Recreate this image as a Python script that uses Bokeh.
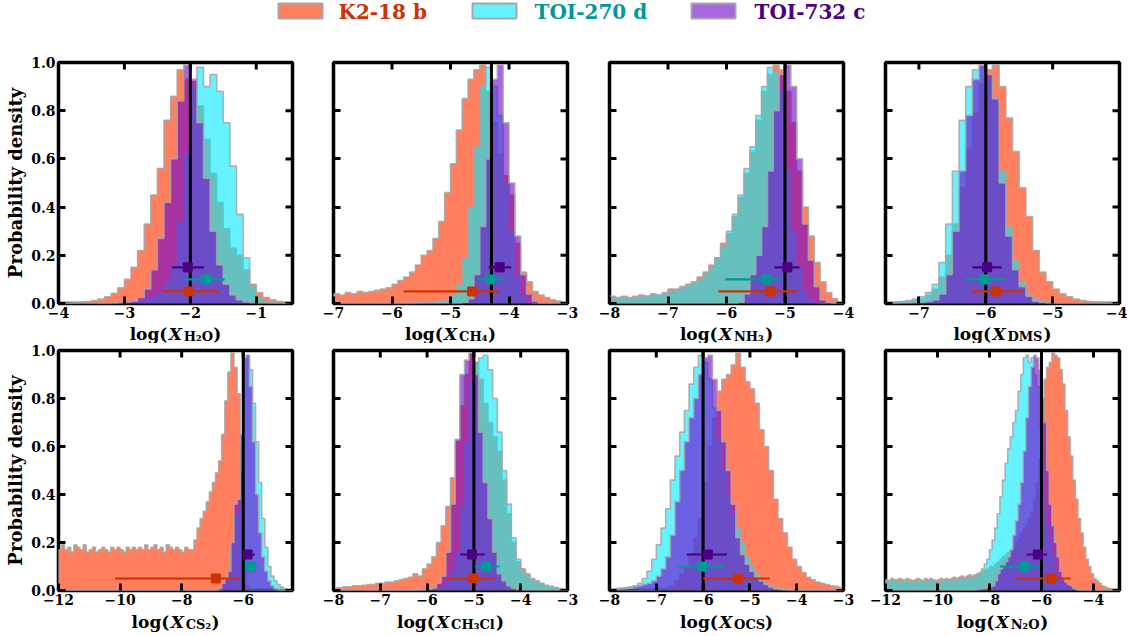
from bokeh.plotting import figure
from bokeh.layouts import column, row
from bokeh.models import Range1d, FixedTicker, CustomJSTickFormatter
from bokeh.core.properties import value
from bokeh.embed import file_html
from bokeh.resources import INLINE

# ---------------- data ----------------
planets = ["K2-18 b", "TOI-270 d", "TOI-732 c"]
fill_colors = ["#FF7F5E", "#00EBFF", "#6E00CD"]
fill_alphas = [1.0, 0.6, 0.6]
text_colors = ["#CC3300", "#009999", "#4B0082"]
err_y = [0.05, 0.10, 0.15]
bin_width = 0.1

species_sub = ["H₂O", "CH₄", "NH₃", "DMS", "CS₂", "CH₃Cl", "OCS", "N₂O"]
x_ranges = [(-4.0, -0.45), (-7.0, -3.0), (-8.0, -4.0), (-7.5, -4.0),
            (-12.0, -4.4), (-8.0, -3.0), (-8.0, -3.0), (-12.0, -3.0)]
x_ticks = [[-4, -3, -2, -1], [-7, -6, -5, -4, -3], [-8, -7, -6, -5, -4], [-7, -6, -5, -4],
           [-12, -10, -8, -6], [-8, -7, -6, -5, -4, -3], [-8, -7, -6, -5, -4, -3], [-12, -10, -8, -6, -4]]
y_ticks = [0.0, 0.2, 0.4, 0.6, 0.8, 1.0]
hist_start = [-4.0, -7.0, -8.0, -7.5, -12.0, -8.0, -8.0, -12.0]
truth = [-2.0, -4.3, -5.0, -6.0, -6.0, -5.0, -6.0, -6.0]

# histograms (heights per 0.1-dex bin, normalised to peak)
h2o_k2 = [0.0, 0.002, 0.003, 0.005, 0.008, 0.012, 0.018, 0.028, 0.042, 0.065,
          0.10, 0.15, 0.22, 0.33, 0.45, 0.56, 0.76, 0.86, 0.97, 0.93,
          0.92, 0.82, 0.68, 0.54, 0.42, 0.31, 0.23, 0.20, 0.14, 0.08,
          0.045, 0.025, 0.015, 0.008, 0.005]
h2o_t270 = [0, 0, 0, 0, 0, 0, 0, 0, 0.002, 0.003,
            0.005, 0.008, 0.012, 0.02, 0.03, 0.05, 0.09, 0.16, 0.34, 0.62,
            0.90, 0.98, 0.90, 0.95, 0.88, 0.75, 0.57, 0.37, 0.19, 0.07,
            0.025, 0.008, 0.003, 0, 0]
h2o_t732 = [0, 0, 0, 0, 0, 0, 0, 0, 0.002, 0.004,
            0.006, 0.01, 0.025, 0.06, 0.14, 0.27, 0.42, 0.60, 0.84, 0.99,
            0.93, 0.75, 0.52, 0.30, 0.16, 0.08, 0.035, 0.015, 0.006, 0.003,
            0, 0, 0, 0, 0]

ch4_k2 = [0.04, 0.035, 0.045, 0.04, 0.05, 0.045, 0.05, 0.055, 0.06, 0.065,
          0.08, 0.095, 0.11, 0.13, 0.16, 0.20, 0.22, 0.27, 0.34, 0.46,
          0.58, 0.72, 0.85, 0.93, 0.97, 0.99, 0.88, 0.75, 0.62, 0.53,
          0.45, 0.25, 0.13, 0.09, 0.05, 0.035, 0.025, 0.015, 0.01, 0.005]
ch4_t270 = [0, 0, 0, 0, 0, 0, 0, 0, 0, 0,
            0, 0, 0, 0.002, 0.003, 0.004, 0.005, 0.007, 0.01, 0.015,
            0.035, 0.08, 0.19, 0.40, 0.65, 0.90, 0.98, 0.90, 0.78, 0.50,
            0.30, 0.12, 0.03, 0.005, 0, 0, 0, 0, 0, 0]
ch4_t732 = [0, 0, 0, 0, 0, 0, 0, 0, 0, 0,
            0, 0, 0, 0, 0, 0, 0, 0, 0, 0,
            0, 0, 0.005, 0.02, 0.12, 0.32, 0.60, 0.93, 0.99, 0.75,
            0.50, 0.28, 0.12, 0.04, 0.01, 0, 0, 0, 0, 0]

nh3_k2 = [0.03, 0.025, 0.03, 0.025, 0.03, 0.035, 0.03, 0.04, 0.035, 0.045,
          0.06, 0.06, 0.07, 0.08, 0.09, 0.11, 0.13, 0.16, 0.19, 0.25,
          0.29, 0.36, 0.44, 0.54, 0.63, 0.76, 0.88, 0.95, 0.99, 0.97,
          0.88, 0.75, 0.55, 0.40, 0.28, 0.17, 0.09, 0.045, 0.02, 0.008]
nh3_t270 = [0.025, 0.02, 0.025, 0.02, 0.025, 0.03, 0.03, 0.035, 0.035, 0.04,
            0.05, 0.055, 0.065, 0.075, 0.085, 0.10, 0.12, 0.15, 0.19, 0.24,
            0.30, 0.37, 0.45, 0.56, 0.65, 0.78, 0.90, 0.98, 0.96, 0.88,
            0.55, 0.30, 0.15, 0.05, 0.015, 0.004, 0, 0, 0, 0]
nh3_t732 = [0, 0, 0, 0, 0, 0, 0, 0, 0, 0,
            0, 0, 0, 0, 0, 0, 0, 0, 0, 0,
            0, 0, 0.005, 0.04, 0.12, 0.20, 0.32, 0.55, 0.80, 0.95,
            0.99, 0.90, 0.60, 0.33, 0.18, 0.07, 0.015, 0.005, 0, 0]

dms_k2 = [0.0, 0.002, 0.005, 0.008, 0.012, 0.02, 0.035, 0.06, 0.11, 0.20,
          0.33, 0.48, 0.64, 0.79, 0.91, 0.97, 0.99, 0.90, 0.77, 0.63,
          0.48, 0.36, 0.22, 0.13, 0.09, 0.06, 0.04, 0.028, 0.018, 0.012,
          0.008, 0.005, 0.003, 0.002, 0.001]
dms_t270 = [0.002, 0.005, 0.008, 0.012, 0.018, 0.028, 0.045, 0.08, 0.17, 0.33,
            0.55, 0.76, 0.90, 0.97, 0.98, 0.93, 0.85, 0.55, 0.32, 0.18,
            0.09, 0.04, 0.02, 0.01, 0.005, 0, 0, 0, 0, 0,
            0, 0, 0, 0, 0]
dms_t732 = [0, 0, 0, 0.002, 0.003, 0.005, 0.008, 0.015, 0.04, 0.12,
            0.30, 0.55, 0.78, 0.93, 0.99, 0.95, 0.85, 0.50, 0.28, 0.14,
            0.07, 0.03, 0.01, 0.004, 0, 0, 0, 0, 0, 0,
            0, 0, 0, 0, 0]

cs2_k2 = [0.17, 0.19, 0.17, 0.18, 0.16, 0.19, 0.18, 0.17, 0.19, 0.16,
          0.17, 0.18, 0.16, 0.17, 0.18, 0.17, 0.16, 0.18, 0.17, 0.18,
          0.17, 0.16, 0.18, 0.17, 0.18, 0.17, 0.18, 0.17, 0.19, 0.17,
          0.18, 0.19, 0.17, 0.18, 0.16, 0.19, 0.18, 0.17, 0.18, 0.17,
          0.16, 0.18, 0.17, 0.17, 0.21, 0.26, 0.30, 0.33, 0.37, 0.41,
          0.45, 0.49, 0.54, 0.65, 0.79, 0.91, 0.99, 0.93, 0.82, 0.50,
          0.12, 0.02, 0.005, 0, 0, 0, 0, 0, 0, 0,
          0, 0, 0, 0, 0, 0]
cs2_t270 = [0, 0, 0, 0, 0, 0, 0, 0, 0, 0,
            0, 0, 0, 0, 0, 0, 0, 0, 0, 0,
            0, 0, 0, 0, 0, 0, 0, 0, 0, 0,
            0, 0, 0, 0, 0, 0, 0, 0, 0, 0,
            0, 0, 0, 0, 0, 0, 0, 0, 0, 0,
            0, 0, 0, 0.01, 0.03, 0.07, 0.18, 0.32, 0.32, 0.60,
            0.97, 0.98, 0.92, 0.78, 0.62, 0.45, 0.30, 0.18, 0.10, 0.06,
            0.04, 0.025, 0.015, 0.008, 0.003, 0]
cs2_t732 = [0, 0, 0, 0, 0, 0, 0, 0, 0, 0,
            0, 0, 0, 0, 0, 0, 0, 0, 0, 0,
            0, 0, 0, 0, 0, 0, 0, 0, 0, 0,
            0, 0, 0, 0, 0, 0, 0, 0, 0, 0,
            0, 0, 0, 0, 0, 0, 0, 0, 0, 0,
            0, 0, 0.01, 0.03, 0.05, 0.08, 0.20, 0.36, 0.38, 0.65,
            0.97, 0.98, 0.85, 0.62, 0.40, 0.24, 0.14, 0.08, 0.04, 0.02,
            0.008, 0.003, 0, 0, 0, 0]

ch3cl_k2 = [0.01, 0.012, 0.015, 0.015, 0.02, 0.02, 0.022, 0.025, 0.025, 0.03,
            0.03, 0.035, 0.035, 0.04, 0.045, 0.05, 0.055, 0.07, 0.06, 0.09,
            0.11, 0.14, 0.20, 0.27, 0.35, 0.47, 0.62, 0.77, 0.90, 0.99,
            0.95, 0.88, 0.78, 0.70, 0.64, 0.58, 0.46, 0.32, 0.20, 0.12,
            0.09, 0.07, 0.05, 0.04, 0.03, 0.02, 0.015, 0.01, 0.006, 0.003]
ch3cl_t270 = [0, 0, 0, 0, 0, 0, 0, 0, 0, 0,
              0, 0, 0, 0, 0, 0, 0, 0.002, 0.003, 0.004,
              0.005, 0.008, 0.012, 0.02, 0.04, 0.08, 0.16, 0.35, 0.62, 0.88,
              0.95, 0.97, 0.98, 0.92, 0.80, 0.66, 0.50, 0.36, 0.22, 0.13,
              0.08, 0.06, 0.045, 0.035, 0.028, 0.022, 0.018, 0.012, 0.008, 0.005]
ch3cl_t732 = [0, 0, 0, 0, 0, 0, 0, 0, 0, 0,
              0, 0, 0, 0, 0, 0, 0, 0, 0, 0.002,
              0.005, 0.01, 0.03, 0.06, 0.16, 0.36, 0.63, 0.90, 0.96, 0.99,
              0.90, 0.66, 0.45, 0.30, 0.16, 0.07, 0.04, 0.02, 0.01, 0.005,
              0, 0, 0, 0, 0, 0, 0, 0, 0, 0]

ocs_k2 = [0, 0, 0, 0, 0, 0.001, 0.001, 0.002, 0.002, 0.003,
          0.004, 0.006, 0.01, 0.02, 0.04, 0.07, 0.10, 0.15, 0.22, 0.30,
          0.45, 0.60, 0.72, 0.83, 0.88, 0.90, 0.94, 0.99, 0.93, 0.87,
          0.84, 0.78, 0.67, 0.60, 0.50, 0.38, 0.30, 0.24, 0.18, 0.13,
          0.10, 0.075, 0.055, 0.045, 0.035, 0.03, 0.025, 0.02, 0.018, 0.012]
ocs_t270 = [0.005, 0.008, 0.01, 0.012, 0.015, 0.02, 0.03, 0.05, 0.08, 0.13,
            0.19, 0.26, 0.34, 0.46, 0.56, 0.66, 0.75, 0.86, 0.93, 0.98,
            0.95, 0.88, 0.76, 0.63, 0.50, 0.40, 0.32, 0.26, 0.20, 0.14,
            0.10, 0.07, 0.05, 0.03, 0.02, 0.012, 0.008, 0.005, 0.003, 0,
            0, 0, 0, 0, 0, 0, 0, 0, 0, 0]
ocs_t732 = [0.003, 0.005, 0.006, 0.008, 0.01, 0.015, 0.02, 0.025, 0.03, 0.04,
            0.06, 0.09, 0.14, 0.23, 0.37, 0.50, 0.62, 0.72, 0.80, 0.90,
            0.97, 0.98, 0.88, 0.75, 0.62, 0.50, 0.36, 0.22, 0.15, 0.11,
            0.08, 0.055, 0.04, 0.025, 0.015, 0.008, 0.004, 0, 0, 0,
            0, 0, 0, 0, 0, 0, 0, 0, 0, 0]

n2o_k2 = [0.045, 0.04, 0.05, 0.04, 0.045, 0.05, 0.045, 0.04, 0.05, 0.045,
          0.04, 0.045, 0.05, 0.045, 0.04, 0.05, 0.045, 0.05, 0.045, 0.04,
          0.045, 0.05, 0.045, 0.05, 0.045, 0.05, 0.055, 0.05, 0.055, 0.06,
          0.055, 0.06, 0.065, 0.06, 0.065, 0.07, 0.075, 0.08, 0.085, 0.09,
          0.10, 0.10, 0.11, 0.12, 0.13, 0.14, 0.15, 0.16, 0.17, 0.18,
          0.20, 0.22, 0.24, 0.26, 0.28, 0.30, 0.33, 0.38, 0.45, 0.55,
          0.80, 0.88, 0.93, 0.95, 0.99, 0.98, 0.97, 0.92, 0.86, 0.75,
          0.64, 0.56, 0.46, 0.38, 0.30, 0.24, 0.18, 0.13, 0.10, 0.07,
          0.05, 0.04, 0.03, 0.02, 0.015, 0.01, 0.007, 0.005, 0.003, 0.002]
n2o_t270 = [0.04, 0.035, 0.04, 0.045, 0.04, 0.035, 0.04, 0.045, 0.04, 0.035,
            0.04, 0.035, 0.04, 0.045, 0.04, 0.035, 0.04, 0.045, 0.04, 0.04,
            0.035, 0.04, 0.045, 0.04, 0.045, 0.04, 0.045, 0.05, 0.045, 0.05,
            0.05, 0.055, 0.05, 0.055, 0.06, 0.065, 0.075, 0.09, 0.11, 0.13,
            0.17, 0.21, 0.26, 0.32, 0.39, 0.46, 0.53, 0.59, 0.64, 0.70,
            0.75, 0.83, 0.90, 0.97, 0.98, 0.95, 0.97, 0.90, 0.85, 0.68,
            0.50, 0.34, 0.27, 0.22, 0.15, 0.09, 0.06, 0.04, 0.025, 0.018,
            0.012, 0.008, 0.005, 0.003, 0, 0, 0, 0, 0, 0,
            0, 0, 0, 0, 0, 0, 0, 0, 0, 0]
n2o_t732 = [0, 0, 0, 0, 0, 0, 0, 0, 0, 0,
            0, 0, 0, 0, 0, 0, 0, 0, 0, 0,
            0, 0, 0, 0, 0, 0, 0, 0, 0, 0,
            0, 0, 0, 0, 0, 0.003, 0.005, 0.007, 0.01, 0.012,
            0.015, 0.02, 0.04, 0.07, 0.09, 0.10, 0.12, 0.14, 0.17, 0.23,
            0.29, 0.36, 0.45, 0.58, 0.72, 0.85, 0.93, 0.98, 0.97, 0.92,
            0.80, 0.70, 0.50, 0.36, 0.27, 0.20, 0.14, 0.08, 0.05, 0.035,
            0.025, 0.02, 0.01, 0.005, 0, 0, 0, 0, 0, 0,
            0, 0, 0, 0, 0, 0, 0, 0, 0, 0]

# retrieved medians and 1-sigma bounds [K2-18 b, TOI-270 d, TOI-732 c]
h2o_med, h2o_lo, h2o_hi = [-2.02, -1.76, -2.04], [-2.42, -2.09, -2.28], [-1.57, -1.48, -1.79]
ch4_med, ch4_lo, ch4_hi = [-4.63, -4.32, -4.16], [-5.80, -4.54, -4.35], [-4.16, -4.08, -3.96]
nh3_med, nh3_lo, nh3_hi = [-5.25, -5.32, -4.96], [-6.14, -6.02, -5.18], [-4.78, -5.06, -4.75]
dms_med, dms_lo, dms_hi = [-5.85, -6.02, -5.98], [-6.21, -6.31, -6.20], [-5.45, -5.71, -5.76]
cs2_med, cs2_lo, cs2_hi = [-6.89, -5.76, -5.86], [-10.16, -5.89, -5.97], [-6.09, -5.51, -5.62]
ch3cl_med, ch3cl_lo, ch3cl_hi = [-5.01, -4.74, -5.04], [-5.56, -4.98, -5.29], [-4.56, -4.45, -4.77]
ocs_med, ocs_lo, ocs_hi = [-5.26, -6.02, -5.90], [-6.00, -6.55, -6.35], [-4.57, -5.53, -5.49]
n2o_med, n2o_lo, n2o_hi = [-5.62, -6.63, -6.14], [-7.00, -7.60, -6.57], [-4.88, -6.10, -5.78]

hists = [[h2o_k2, h2o_t270, h2o_t732], [ch4_k2, ch4_t270, ch4_t732],
         [nh3_k2, nh3_t270, nh3_t732], [dms_k2, dms_t270, dms_t732],
         [cs2_k2, cs2_t270, cs2_t732], [ch3cl_k2, ch3cl_t270, ch3cl_t732],
         [ocs_k2, ocs_t270, ocs_t732], [n2o_k2, n2o_t270, n2o_t732]]
meds = [h2o_med, ch4_med, nh3_med, dms_med, cs2_med, ch3cl_med, ocs_med, n2o_med]
los = [h2o_lo, ch4_lo, nh3_lo, dms_lo, cs2_lo, ch3cl_lo, ocs_lo, n2o_lo]
his = [h2o_hi, ch4_hi, nh3_hi, dms_hi, cs2_hi, ch3cl_hi, ocs_hi, n2o_hi]

# ---------------- layout ----------------
FONT = "DejaVu Serif"
FRAME_W = 234
WIDTHS = [312, 276, 276, 263]
LB = [58, 21, 21, 21]
RB = [20, 21, 21, 8]
TB = [18, 7]
FRAME_H = [241, 240]
BB = [20, 22]
LEG_H = 44
LABEL_H = [20, 23]
LABEL_MID = [10.0, 9.5]
EDGE = "#A6A6A6"

CW = {'l': 0.42, 'o': 0.69, 'g': 0.72, '(': 0.47, ')': 0.47, 'X': 0.82, 'H': 0.97,
      'C': 0.80, 'N': 0.97, 'O': 0.85, 'D': 0.92, 'M': 1.14, 'S': 0.72,
      '₂': 0.46, '₃': 0.46, '₄': 0.46}


def tw(s, size):
    return sum(CW.get(ch, 0.65) for ch in s) * size


def step_xy(start, w, h):
    xs, ys = [start], [0.0]
    for i, v in enumerate(h):
        left = start + w * i
        xs += [left, left + w]
        ys += [v, v]
    xs.append(start + w * len(h))
    ys.append(0.0)
    return xs, ys


def make_panel(i):
    c, r = i % 4, i // 4
    x0, x1 = x_ranges[i]
    p = figure(width=WIDTHS[c], height=TB[r] + FRAME_H[r] + BB[r],
               x_range=Range1d(x0, x1), y_range=Range1d(0, 1),
               output_backend="svg", toolbar_location=None,
               min_border_left=LB[c], min_border_right=RB[c],
               min_border_top=TB[r], min_border_bottom=BB[r])
    p.xgrid.visible = False
    p.ygrid.visible = False
    p.outline_line_color = "black"
    p.outline_line_width = 3.5
    p.outline_line_alpha = 1.0

    for k in range(3):
        xs, ys = step_xy(hist_start[i], bin_width, hists[i][k])
        p.patch(xs, ys, fill_color=fill_colors[k], fill_alpha=fill_alphas[k], line_color=None)
        p.line(xs, ys, line_color=EDGE, line_width=1.6, line_alpha=0.85)

    t = truth[i]
    p.segment(x0=[t], y0=[0], x1=[t], y1=[1], line_color="black", line_width=3)

    for k in range(3):
        p.segment(x0=[los[i][k]], y0=[err_y[k]], x1=[his[i][k]], y1=[err_y[k]],
                  line_color=text_colors[k], line_width=2.2)
        p.scatter([meds[i][k]], [err_y[k]], marker="square", size=9,
                  fill_color=text_colors[k], line_color=text_colors[k])

    # mirrored ticks on the top and right sides
    xt = x_ticks[i]
    dy = 7.0 / FRAME_H[r]
    dx = 7.0 * (x1 - x0) / FRAME_W
    p.segment(x0=xt, y0=[1 - dy] * len(xt), x1=xt, y1=[1] * len(xt), line_color="black", line_width=3)
    p.segment(x0=[x1 - dx] * len(y_ticks), y0=y_ticks, x1=[x1] * len(y_ticks), y1=y_ticks,
              line_color="black", line_width=3)

    p.xaxis.ticker = FixedTicker(ticks=xt)
    p.xaxis.formatter = CustomJSTickFormatter(
        code="return (tick < 0 ? '\u2212' : '') + Math.abs(tick).toFixed(0);")
    p.yaxis.ticker = FixedTicker(ticks=y_ticks)
    if c == 0:
        p.yaxis.formatter = CustomJSTickFormatter(code="return tick.toFixed(1);")
        p.yaxis.axis_label = "Probability density"
        p.yaxis.axis_label_text_font = FONT
        p.yaxis.axis_label_text_font_style = "bold"
        p.yaxis.axis_label_text_font_size = "18px"
        p.yaxis.axis_label_standoff = 2
        p.yaxis.axis_label_text_color = "black"
    else:
        p.yaxis.formatter = CustomJSTickFormatter(code="return '';")
    for ax in p.axis:
        ax.axis_line_color = None
        ax.major_tick_in = 7
        ax.major_tick_out = 0
        ax.major_tick_line_width = 3
        ax.major_tick_line_color = "black"
        ax.minor_tick_line_color = None
        ax.major_label_text_font = FONT
        ax.major_label_text_font_style = "bold"
        ax.major_label_text_font_size = "14px"
        ax.major_label_text_color = "black"
        ax.major_label_standoff = 3
    return p


def make_xlabel(i):
    c, r = i % 4, i // 4
    W, H = WIDTHS[c], LABEL_H[r]
    lf = figure(width=W, height=H, x_range=Range1d(0, W), y_range=Range1d(H, 0),
                output_backend="svg", toolbar_location=None, min_border=0,
                x_axis_location=None, y_axis_location=None)
    lf.outline_line_color = None
    lf.xgrid.visible = False
    lf.ygrid.visible = False
    main_sz, sub_sz = 17, 13
    w_log = tw("log(", main_sz)
    w_x = tw("X", main_sz) + 1
    w_sub = tw(species_sub[i], sub_sz)
    w_par = tw(")", main_sz)
    total = w_log + w_x + w_sub + w_par
    xs0 = LB[c] + FRAME_W / 2 - total / 2
    ym = LABEL_MID[r]
    pieces = [("log(", xs0, ym, main_sz, "bold"),
              ("X", xs0 + w_log, ym, main_sz, "bold italic"),
              (species_sub[i], xs0 + w_log + w_x, ym + 2.5, sub_sz, "bold"),
              (")", xs0 + w_log + w_x + w_sub, ym, main_sz, "bold")]
    for txt, xx, yy, sz, st in pieces:
        lf.text(x=[xx], y=[yy], text=[txt], text_font=value(FONT), text_font_size=value(f"{sz}px"),
                text_font_style=st, text_align="left", text_baseline="middle", text_color="black")
    return lf


panels = [make_panel(i) for i in range(8)]
xlabels = [make_xlabel(i) for i in range(8)]

# legend strip
leg = figure(width=1127, height=LEG_H, x_range=Range1d(0, 1127), y_range=Range1d(LEG_H, 0),
             output_backend="svg", toolbar_location=None, min_border=0,
             x_axis_location=None, y_axis_location=None)
leg.outline_line_color = None
leg.xgrid.visible = False
leg.ygrid.visible = False
leg_sq_x = [300, 494, 713]
leg_text_x = [338, 534, 754]
leg.rect(x=leg_sq_x, y=[10.5] * 3, width=44, height=15, fill_color=fill_colors,
         fill_alpha=fill_alphas, line_color=EDGE, line_width=2)
leg.text(x=leg_text_x, y=[11] * 3, text=planets, text_color=text_colors,
         text_font=value(FONT), text_font_style="bold", text_font_size=value("20px"),
         text_baseline="middle", text_align="left")

layout = column(leg, row(*panels[:4]), row(*xlabels[:4]), row(*panels[4:]), row(*xlabels[4:]))

html = file_html(layout, INLINE, title="Retrieved abundances")
with open("out.html", "w", encoding="utf-8") as f:
    f.write(html)
